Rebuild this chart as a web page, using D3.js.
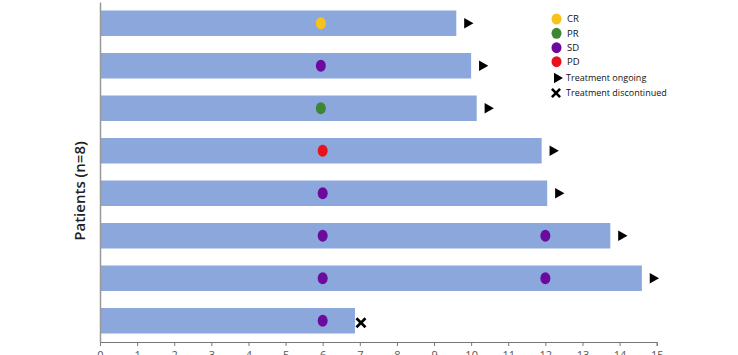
<!DOCTYPE html>
<html><head><meta charset="utf-8">
<script src="https://cdn.jsdelivr.net/npm/d3@7"></script>
<style>body{margin:0;background:#fff;} svg{display:block;}</style>
</head><body>
<script>
// ---- data ----
const patients = ["P1","P2","P3","P4","P5","P6","P7","P8"];
const duration = [9.6, 10.0, 10.15, 11.9, 12.05, 13.75, 14.6, 6.87];
const status = ["ongoing","ongoing","ongoing","ongoing","ongoing","ongoing","ongoing","discontinued"];
const assessmentPatient = ["P1","P2","P3","P4","P5","P6","P6","P7","P7","P8"];
const assessmentTime = [5.95, 5.95, 5.95, 6.0, 6.0, 6.0, 12.0, 6.0, 12.0, 6.0];
const assessmentResponse = ["CR","SD","PR","PD","SD","SD","SD","SD","SD","SD"];
const responseTypes = ["CR","PR","SD","PD"];
const responseColors = ["#f7c21c","#3c8634","#6c0a9e","#e8121c"];
const xTicks = [0,1,2,3,4,5,6,7,8,9,10,11,12,13,14,15];
const yLabel = "Patients (n=8)";
const legendMarkers = ["Treatment ongoing","Treatment discontinued"];

const W = 738, H = 355;
const svg = d3.select("body").append("svg").attr("width", W).attr("height", H);
const x = d3.scaleLinear().domain([0, 15]).range([100, 656.7]);
const y = d3.scaleBand().domain(patients).range([2, 342]).paddingInner(0.4).paddingOuter(0.2);
const color = d3.scaleOrdinal().domain(responseTypes).range(responseColors);
const FONT = "'Open Sans', 'Noto Sans', sans-serif";

// bars
svg.append("g").selectAll("rect").data(patients).join("rect")
  .attr("x", x(0)).attr("y", d => y(d))
  .attr("width", (d,i) => x(duration[i]) - x(0))
  .attr("height", y.bandwidth())
  .attr("fill", "#8ba7dc");

// x axis
const xAxis = svg.append("g").attr("transform", `translate(0,${342})`)
  .call(d3.axisBottom(x).tickValues(xTicks).tickFormat(d3.format("d")).tickSize(4).tickSizeOuter(4));
xAxis.select(".domain").attr("stroke", "#777");
xAxis.selectAll(".tick line").attr("stroke", "#777");
xAxis.selectAll("text").attr("fill", "#555").style("font-family", FONT).style("font-size", "11px").attr("y", 9);

// y axis line
const yAxis = svg.append("g").attr("transform", `translate(${x(0)},0)`)
  .call(d3.axisLeft(y).tickSize(0).tickFormat(""));
yAxis.select(".domain").attr("stroke", "#999").attr("stroke-width", 1.5);

// y label
svg.append("text").attr("transform", `translate(85,${191}) rotate(-90)`)
  .attr("text-anchor", "middle").attr("fill", "#222")
  .style("font-family", FONT).style("font-size", "15px").style("font-weight", "600").text(yLabel);

// response dots
svg.append("g").selectAll("ellipse").data(assessmentTime).join("ellipse")
  .attr("cx", d => x(d))
  .attr("cy", (d,i) => y(assessmentPatient[i]) + y.bandwidth()/2)
  .attr("rx", 5).attr("ry", 6)
  .attr("fill", (d,i) => color(assessmentResponse[i]));

// end markers
const tri = d3.symbol().type(d3.symbolTriangle).size(50);
const cross = d3.symbol().type(d3.symbolX).size(55);
svg.append("g").selectAll("path").data(patients).join("path")
  .attr("transform", (d,i) => {
    const cy = y(d) + y.bandwidth()/2;
    return status[i] === "ongoing"
      ? `translate(${x(duration[i]) + 11},${cy}) rotate(90)`
      : `translate(${x(duration[i]) + 6},${cy + 2})`;
  })
  .attr("d", (d,i) => status[i] === "ongoing" ? tri() : cross())
  .attr("fill", "#000")
  .attr("stroke", (d,i) => status[i] === "ongoing" ? "none" : "#000")
  .attr("stroke-width", 2.6);

// legend
const lg = svg.append("g");
const legY = [19, 33.3, 47.7, 61.7];
lg.selectAll("ellipse").data(responseTypes).join("ellipse")
  .attr("cx", 556.5).attr("cy", (d,i) => legY[i]).attr("rx", 5).attr("ry", 5.5)
  .attr("fill", d => color(d));
lg.selectAll("text.r").data(responseTypes).join("text").attr("class","r")
  .attr("x", 567).attr("y", (d,i) => legY[i]).attr("dy", "0.35em")
  .attr("fill", "#111").style("font-family", FONT).style("font-size", "9.5px").text(d => d);
const mY = [78, 93];
lg.append("path").attr("transform", `translate(557,${mY[0]}) rotate(90)`)
  .attr("d", d3.symbol().type(d3.symbolTriangle).size(46)()).attr("fill", "#000");
lg.append("path").attr("transform", `translate(556,${mY[1]})`)
  .attr("d", d3.symbol().type(d3.symbolX).size(45)()).attr("fill", "#000").attr("stroke", "#000").attr("stroke-width", 2.6);
lg.selectAll("text.m").data(legendMarkers).join("text").attr("class","m")
  .attr("x", 566).attr("y", (d,i) => mY[i]).attr("dy", "0.35em")
  .attr("fill", "#111").style("font-family", FONT).style("font-size", "9px").text(d => d);
</script>
</body></html>
